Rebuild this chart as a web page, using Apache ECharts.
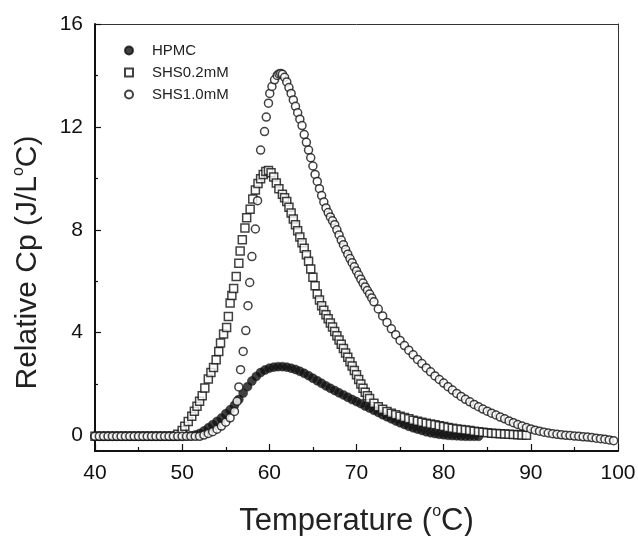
<!DOCTYPE html>
<html>
<head>
<meta charset="utf-8">
<script src="https://cdn.jsdelivr.net/npm/echarts@6/dist/echarts.min.js"></script>
<style>html,body{margin:0;padding:0;background:#fff;}#c{width:638px;height:536px;}</style>
</head>
<body>
<div id="c"></div>
<script>
const seriesNames = ['HPMC', 'SHS0.2mM', 'SHS1.0mM'];
const xTickLabels = [40, 50, 60, 70, 80, 90, 100];
const yLabelValues = [0, 4, 8, 12, 16];
const yMinorValues = [2, 6, 10, 14];

const hpmcData = [[40,-0.03],[40.5,-0.03],[41,-0.03],[41.5,-0.03],[42,-0.03],[42.5,-0.03],[43,-0.03],[43.5,-0.03],[44,-0.03],[44.5,-0.03],[45,-0.03],[45.5,-0.03],[46,-0.03],[46.5,-0.03],[47,-0.03],[47.5,-0.03],[48,-0.03],[48.5,-0.03],[49,-0.03],[49.5,-0.03],[50,-0.03],[50.5,-0.02],[51,-0.01],[51.5,0.02],[52,0.08],[52.5,0.18],[53,0.3],[53.5,0.42],[54,0.55],[54.5,0.68],[55,0.85],[55.5,1.0],[56,1.18],[56.5,1.4],[57,1.65],[57.5,1.9],[58,2.12],[58.5,2.3],[59,2.45],[59.5,2.55],[60,2.62],[60.5,2.66],[61,2.68],[61.5,2.68],[62,2.66],[62.5,2.62],[63,2.57],[63.5,2.5],[64,2.42],[64.5,2.33],[65,2.23],[65.5,2.13],[66,2.03],[66.5,1.93],[67,1.84],[67.5,1.75],[68,1.66],[68.5,1.58],[69,1.49],[69.5,1.4],[70,1.32],[70.5,1.24],[71,1.15],[71.5,1.07],[72,0.98],[72.5,0.9],[73,0.81],[73.5,0.73],[74,0.65],[74.5,0.57],[75,0.5],[75.5,0.43],[76,0.36],[76.5,0.3],[77,0.25],[77.5,0.2],[78,0.15],[78.5,0.11],[79,0.08],[79.5,0.05],[80,0.03],[80.5,0.01],[81,0],[81.5,-0.01],[82,-0.02],[82.5,-0.03],[83,-0.03],[83.5,-0.03],[84,-0.03]];

const shs02Data = [[40,-0.03],[40.5,-0.03],[41,-0.03],[41.5,-0.03],[42,-0.03],[42.5,-0.03],[43,-0.03],[43.5,-0.03],[44,-0.03],[44.5,-0.03],[45,-0.03],[45.5,-0.03],[46,-0.03],[46.5,-0.03],[47,-0.03],[47.5,-0.03],[48,-0.03],[48.5,-0.03],[49,-0.03],[49.5,0.05],[50,0.2],[50.3,0.36],[50.7,0.55],[51.1,0.75],[51.4,0.95],[51.7,1.14],[52,1.33],[52.3,1.55],[52.6,1.85],[53,2.2],[53.3,2.45],[53.6,2.65],[53.9,2.95],[54.2,3.27],[54.4,3.6],[54.75,3.95],[55.1,4.2],[55.3,4.63],[55.5,5.15],[55.7,5.45],[55.9,5.72],[56.2,6.18],[56.5,6.7],[56.65,7.18],[56.9,7.61],[57.2,8.07],[57.4,8.47],[57.8,8.8],[58.1,9.2],[58.4,9.55],[58.7,9.8],[59,9.98],[59.3,10.15],[59.6,10.27],[59.9,10.3],[60.2,10.22],[60.5,10.05],[60.8,9.82],[61.1,9.6],[61.5,9.38],[61.75,9.25],[62,9.1],[62.25,8.88],[62.5,8.65],[62.75,8.42],[63,8.2],[63.25,7.96],[63.5,7.72],[63.75,7.5],[64,7.28],[64.25,7.03],[64.5,6.78],[64.75,6.48],[65,6.15],[65.25,5.82],[65.5,5.5],[65.75,5.27],[66,5.05],[66.25,4.87],[66.5,4.7],[66.75,4.54],[67,4.38],[67.25,4.22],[67.5,4.05],[67.75,3.88],[68,3.72],[68.25,3.55],[68.5,3.38],[68.75,3.21],[69,3.04],[69.25,2.87],[69.5,2.7],[69.75,2.53],[70,2.36],[70.25,2.18],[70.5,2.0],[70.75,1.84],[71,1.68],[71.25,1.55],[71.5,1.44],[72,1.26],[72.5,1.12],[73,1.02],[73.5,0.94],[74,0.87],[74.5,0.81],[75,0.75],[75.5,0.7],[76,0.65],[76.5,0.6],[77,0.56],[77.5,0.52],[78,0.48],[78.5,0.45],[79,0.42],[79.5,0.38],[80,0.35],[80.5,0.31],[81,0.28],[81.5,0.26],[82,0.24],[82.5,0.22],[83,0.2],[83.5,0.17],[84,0.15],[84.5,0.13],[85,0.11],[85.5,0.09],[86,0.08],[86.5,0.07],[87,0.06],[87.5,0.05],[88,0.04],[88.5,0.03],[89,0.02],[89.5,0.01]];

const shs10Data = [[40,-0.03],[40.5,-0.03],[41,-0.03],[41.5,-0.03],[42,-0.03],[42.5,-0.03],[43,-0.03],[43.5,-0.03],[44,-0.03],[44.5,-0.03],[45,-0.03],[45.5,-0.03],[46,-0.03],[46.5,-0.03],[47,-0.03],[47.5,-0.03],[48,-0.03],[48.5,-0.03],[49,-0.03],[49.5,-0.03],[50,-0.03],[50.5,-0.03],[51,-0.03],[51.5,-0.03],[52,-0.03],[52.5,0.02],[53,0.08],[53.5,0.15],[54,0.25],[54.5,0.37],[55,0.52],[55.5,0.69],[56,0.94],[56.3,1.33],[56.5,1.89],[56.7,2.56],[57,3.27],[57.3,4.08],[57.55,5.05],[57.75,5.95],[58,6.96],[58.4,8.03],[58.65,9.13],[59,11.1],[59.45,11.82],[59.65,12.38],[59.9,12.92],[60.05,13.3],[60.3,13.57],[60.6,13.83],[60.9,14.0],[61.1,14.06],[61.3,14.08],[61.5,14.05],[61.75,13.93],[62,13.75],[62.25,13.53],[62.5,13.3],[62.75,13.05],[63,12.8],[63.25,12.55],[63.5,12.3],[63.75,12.05],[64,11.7],[64.25,11.4],[64.5,11.1],[64.75,10.8],[65,10.48],[65.25,10.15],[65.5,9.88],[65.75,9.6],[66,9.33],[66.25,9.08],[66.5,8.85],[66.75,8.67],[67,8.5],[67.25,8.35],[67.5,8.2],[67.75,8.0],[68,7.8],[68.25,7.6],[68.5,7.42],[68.75,7.23],[69,7.05],[69.25,6.88],[69.5,6.72],[69.75,6.56],[70,6.4],[70.25,6.24],[70.5,6.08],[70.75,5.93],[71,5.78],[71.25,5.64],[71.5,5.5],[71.75,5.35],[72,5.2],[72.5,4.92],[73,4.65],[73.5,4.4],[74,4.15],[74.5,3.92],[75,3.7],[75.5,3.5],[76,3.32],[76.5,3.14],[77,2.96],[77.5,2.8],[78,2.63],[78.5,2.48],[79,2.32],[79.5,2.18],[80,2.04],[80.5,1.9],[81,1.77],[81.5,1.64],[82,1.52],[82.5,1.41],[83,1.31],[83.5,1.21],[84,1.12],[84.5,1.03],[85,0.95],[85.5,0.87],[86,0.8],[86.5,0.72],[87,0.65],[87.5,0.57],[88,0.5],[88.5,0.43],[89,0.37],[89.5,0.31],[90,0.26],[90.5,0.21],[91,0.17],[91.5,0.13],[92,0.1],[92.5,0.07],[93,0.05],[93.5,0.03],[94,0.01],[94.5,0],[95,-0.02],[95.5,-0.03],[96,-0.05],[96.5,-0.06],[97,-0.08],[97.5,-0.1],[98,-0.12],[98.5,-0.14],[99,-0.17],[99.5,-0.2]];

const FONT = 'Liberation Sans, Arial, sans-serif';
const chart = echarts.init(document.getElementById('c'), null, {renderer: 'canvas'});

chart.setOption({
  backgroundColor: '#fff',
  animation: false,
  grid: {left: 95, right: 20, top: 24, bottom: 85, containLabel: false, outerBoundsMode: 'none'},
  legend: {
    orient: 'vertical', left: 119, top: 38, itemWidth: 8, itemHeight: 8, itemGap: 7,
    data: seriesNames,
    textStyle: {fontFamily: FONT, fontSize: 15, color: '#222', padding: [0, 0, 0, 14]}
  },
  xAxis: [{
    type: 'value', min: 40, max: 100, interval: 10, position: 'bottom',
    axisLine: {onZero: false, lineStyle: {color: '#111', width: 2}},
    axisTick: {inside: true, length: 7, lineStyle: {color: '#111', width: 1.2}},
    minorTick: {show: true, splitNumber: 2, length: 4, lineStyle: {color: '#111', width: 1.2}},
    splitLine: {show: false},
    axisLabel: {fontFamily: FONT, fontSize: 21, color: '#111', margin: 12,
      formatter: v => xTickLabels.indexOf(v) >= 0 ? String(v) : ''},
    name: '{t|Temperature (}{sup|o}{t|C)}', nameLocation: 'middle', nameGap: 53,
    nameTextStyle: {rich: {
      t: {fontSize: 31, fontFamily: FONT, color: '#222', lineHeight: 34},
      sup: {fontSize: 16, fontFamily: FONT, color: '#222', lineHeight: 34, verticalAlign: 'top'}
    }}
  }, {
    type: 'value', min: 40, max: 100, position: 'top',
    axisLine: {onZero: false, lineStyle: {color: '#333', width: 1}},
    axisTick: {show: false}, axisLabel: {show: false}, splitLine: {show: false}
  }],
  yAxis: [{
    type: 'value', min: -0.6, max: 16, position: 'left',
    axisLine: {onZero: false, lineStyle: {color: '#111', width: 2}},
    axisTick: {inside: true, length: 6, customValues: yLabelValues, lineStyle: {color: '#111', width: 1.2}},
    axisLabel: {fontFamily: FONT, fontSize: 21, color: '#111', margin: 12, customValues: yLabelValues},
    splitLine: {show: false},
    name: '{t|Relative Cp (J/L}{sup|o}{t|C)}', nameLocation: 'middle', nameGap: 50, nameRotate: 90,
    nameTextStyle: {padding: [0, 50, 0, 0], rich: {
      t: {fontSize: 30, fontFamily: FONT, color: '#222', lineHeight: 34},
      sup: {fontSize: 16, fontFamily: FONT, color: '#222', lineHeight: 34, verticalAlign: 'top'}
    }}
  }, {
    type: 'value', min: -0.6, max: 16, position: 'left',
    axisLine: {show: false},
    axisTick: {inside: true, length: 3, customValues: yMinorValues, lineStyle: {color: '#111', width: 1.2}},
    axisLabel: {show: false, customValues: yMinorValues}, splitLine: {show: false}
  }, {
    type: 'value', min: -0.6, max: 16, position: 'right',
    axisLine: {show: true, onZero: false, lineStyle: {color: '#333', width: 1}},
    axisTick: {show: false}, axisLabel: {show: false}, splitLine: {show: false}
  }],
  series: [{
    name: seriesNames[0], type: 'scatter', data: hpmcData, symbol: 'circle', symbolSize: 9,
    itemStyle: {color: '#111', borderColor: '#111', borderWidth: 0.5}, z: 2
  }, {
    name: seriesNames[1], type: 'scatter', data: shs02Data, symbol: 'rect', symbolSize: 8,
    itemStyle: {color: '#fff', borderColor: '#111', borderWidth: 1.5}, z: 3
  }, {
    name: seriesNames[2], type: 'scatter', data: shs10Data, symbol: 'circle', symbolSize: 8,
    itemStyle: {color: '#fff', borderColor: '#111', borderWidth: 1.5}, z: 4
  }]
});
</script>
</body>
</html>
